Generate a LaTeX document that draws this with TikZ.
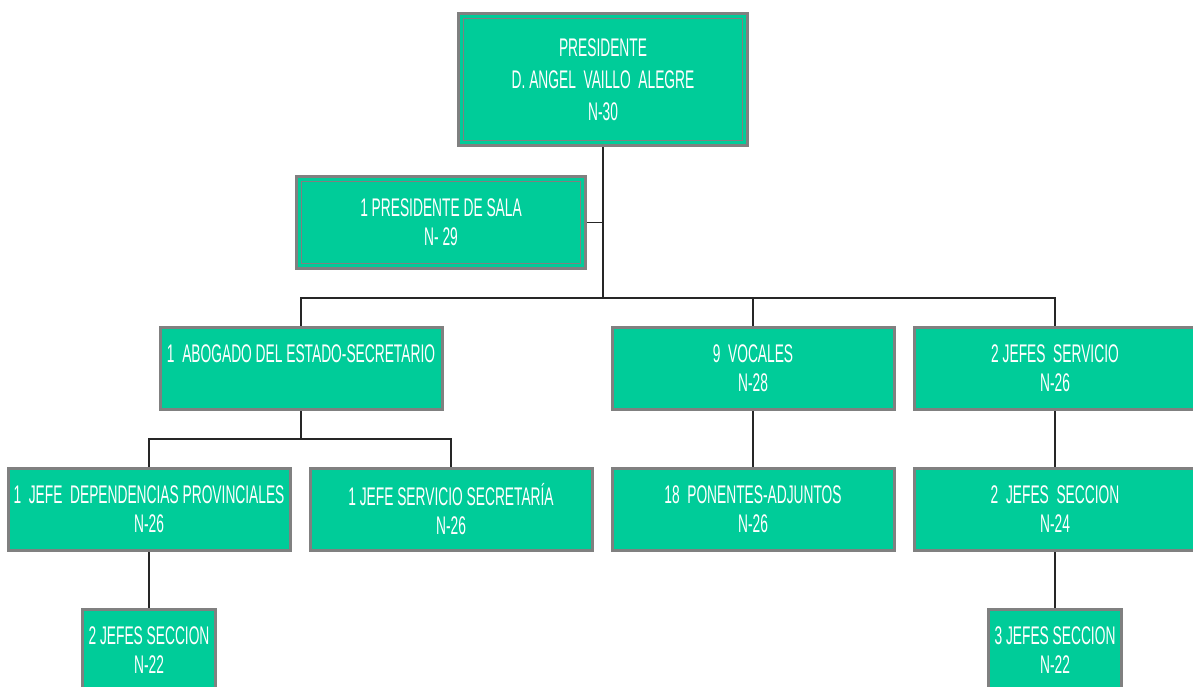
\documentclass[tikz,border=0pt]{standalone}
\usepackage{fontspec}
\setmainfont{Liberation Sans}[FakeStretch=0.54]
\usetikzlibrary{positioning}
\definecolor{orgteal}{RGB}{0,204,153}
\definecolor{orggray}{RGB}{128,128,128}

\begin{document}
\begin{tikzpicture}[
    x=1pt, y=-1pt,
    node distance=56pt and 17pt,
    every node/.style={font=\fontsize{25.5}{29}\selectfont, text=white},
    unit/.style={draw=orggray, line width=3pt, fill=orgteal, align=center, inner sep=0pt, minimum width=282pt, minimum height=82pt},
    head/.style={unit, minimum width=289pt, path picture={\draw[orggray, line width=1.5pt] ([shift={(5pt,5pt)}]path picture bounding box.south west) rectangle ([shift={(-5pt,-5pt)}]path picture bounding box.north east);}},
    small/.style={unit, minimum width=133pt},
    link/.style={line width=1.6pt, draw=black!85}
]
\path[fill=white, use as bounding box] (0,0) rectangle (1193,686);
\clip (0,0) rectangle (1193,686);

\node[head, minimum height=132pt, font=\fontsize{25.5}{32}\selectfont] (pres) at (603,79.5) {PRESIDENTE\\D. ANGEL~ VAILLO~ ALEGRE\\N-30};
\node[head, minimum height=92pt] (sala) at (441,222.5) {1 PRESIDENTE DE SALA\\N- 29};
\node[unit] (vocales) at (753,368.5) {9~ VOCALES\\N-28};
\node[unit, left=167pt of vocales] (abogado) {1~ ABOGADO DEL ESTADO-SECRETARIO\\~};
\node[unit, right=of vocales] (servicio) {2 JEFES~ SERVICIO\\N-26};
\node[unit, below=of vocales] (ponentes) {18~ PONENTES-ADJUNTOS\\N-26};
\node[unit, left=of ponentes] (secretaria) {1 JEFE SERVICIO SECRETARÍA\\N-26};
\node[unit, left=of secretaria] (provincias) {1~ JEFE~ DEPENDENCIAS PROVINCIALES\\N-26};
\node[unit, below=of servicio] (seccionb) {2~ JEFES~ SECCION\\N-24};
\node[small, below=of provincias] (secciona) {2 JEFES SECCION\\N-22};
\node[small, below=of seccionb] (seccionc) {3 JEFES SECCION\\N-22};

% lineas de mando
\coordinate (bus) at ([yshift=-151pt]pres.south);
\coordinate (fork) at ([yshift=-28pt]abogado.south);
\draw[link] (pres.south) -- (bus);
\draw[link] (sala.east) -- (sala.east -| pres.south);
\draw[link] (abogado.north) |- (bus) -| (servicio.north);
\draw[link] (vocales.north) -- (vocales.north |- bus);
\draw[link] (abogado.south) -- (fork);
\draw[link] (provincias.north) |- (fork) -| (secretaria.north);
\draw[link] (vocales.south) -- (ponentes.north);
\draw[link] (servicio.south) -- (seccionb.north);
\draw[link] (seccionb.south) -- (seccionc.north);
\draw[link] (provincias.south) -- (secciona.north);
\end{tikzpicture}
\end{document}
